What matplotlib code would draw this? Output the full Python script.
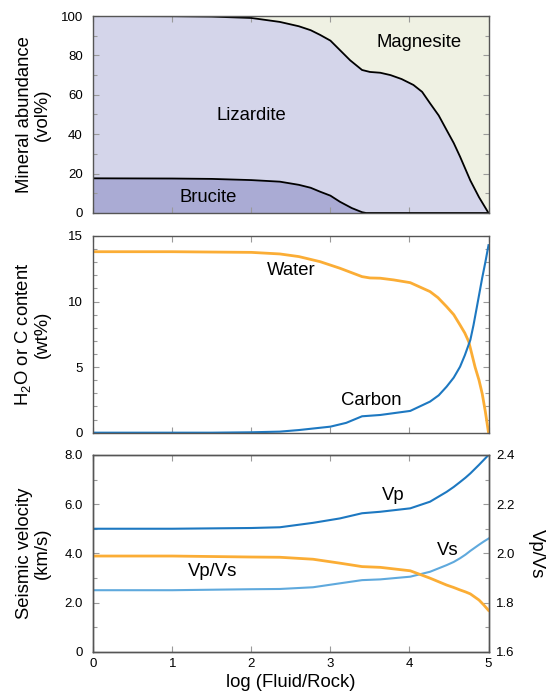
import numpy as np
import matplotlib
matplotlib.use("Agg")
import matplotlib.pyplot as plt
from matplotlib.ticker import MultipleLocator, FixedLocator, FixedFormatter

plt.rcParams["font.family"] = ["Liberation Sans", "DejaVu Sans"]
plt.rcParams["mathtext.fontset"] = "custom"
plt.rcParams["mathtext.rm"] = "Liberation Sans"

# -------------------------------------------------------
# DATA
# -------------------------------------------------------
# panel 1: mineral abundance (vol%)
liz_x = [0, 1.0, 1.5, 2.0, 2.36, 2.6, 2.75, 2.87, 3.0, 3.12, 3.25, 3.40, 3.5, 3.63,
         3.76, 3.9, 4.05, 4.16, 4.26, 4.37, 4.47, 4.56, 4.64, 4.77, 4.88, 5.0]
liz_top = [100, 99.9, 99.7, 99.0, 97.0, 94.8, 92.8, 90.4, 87.5, 82.7, 77.5, 72.6, 71.6, 71.2,
           70.0, 68.0, 65.0, 61.5, 55.7, 49.5, 42.1, 35.5, 28.6, 16.5, 8.0, 0]
bru_x = [0, 1.0, 1.5, 2.0, 2.36, 2.6, 2.75, 2.87, 3.0, 3.12, 3.27, 3.40, 3.45, 5.0]
brucite = [17.6, 17.5, 17.3, 16.7, 15.9, 14.3, 12.8, 10.8, 8.8, 5.7, 2.5, 0.4, 0, 0]

# panel 2: H2O / C content (wt%)
w_x = [0, 1.0, 2.0, 2.36, 2.6, 2.87, 3.12, 3.40, 3.5, 3.63, 3.8, 4.01, 4.26, 4.36,
       4.47, 4.56, 4.64, 4.70, 4.75, 4.83, 4.88, 4.92, 4.96, 5.0]
water = [13.8, 13.8, 13.75, 13.63, 13.43, 13.04, 12.54, 11.9, 11.8, 11.78, 11.65, 11.44, 10.76, 10.3,
         9.61, 9.0, 8.21, 7.6, 6.94, 5.0, 4.0, 2.98, 1.6, 0]
c_x = [0, 1.5, 2.0, 2.36, 2.6, 3.0, 3.2, 3.40, 3.63, 4.01, 4.26, 4.37, 4.47, 4.56, 4.64,
       4.70, 4.77, 4.81, 4.85, 4.92, 4.96, 5.0]
carbon = [0, 0, 0.03, 0.08, 0.2, 0.46, 0.75, 1.25, 1.35, 1.66, 2.37, 2.85, 3.51, 4.2, 5.03,
          5.9, 7.07, 8.2, 9.5, 11.8, 13.0, 14.3]

# panel 3: seismic velocity (km/s) and Vp/Vs
v_x = [0, 1.0, 2.0, 2.36, 2.78, 3.12, 3.40, 3.63, 4.01, 4.26, 4.47, 4.56, 4.64, 4.71,
       4.77, 4.88, 4.94, 5.0]
vp = [5.0, 5.0, 5.03, 5.06, 5.24, 5.42, 5.63, 5.69, 5.83, 6.10, 6.50, 6.7, 6.9, 7.08,
      7.25, 7.6, 7.8, 8.0]
vs = [2.5, 2.5, 2.54, 2.55, 2.62, 2.78, 2.91, 2.94, 3.05, 3.25, 3.52, 3.65, 3.8, 3.95,
      4.1, 4.35, 4.48, 4.6]
vpvs = [1.989, 1.989, 1.985, 1.984, 1.976, 1.960, 1.946, 1.943, 1.929, 1.899, 1.871, 1.861,
        1.851, 1.843, 1.835, 1.81, 1.79, 1.768]

x_ticks = [0, 1, 2, 3, 4, 5]
v_ticks = [0, 2, 4, 6, 8]
v_tick_labels = ["0", "2.0", "4.0", "6.0", "8.0"]
r_ticks = [1.6, 1.8, 2.0, 2.2, 2.4]
r_tick_labels = ["1.6", "1.8", "2.0", "2.2", "2.4"]

# colours
C_LIZ = "#d4d5ea"
C_BRU = "#aaabd4"
C_MAG = "#eff1e3"
C_ORANGE = "#fbad35"
C_BLUE = "#1d78c1"
C_LBLUE = "#5fa9dd"
SPINE = "#555555"
TICK = "#9a9a9a"

LABEL_FS = 13.3
TICK_FS = 9.5


def style_axes(ax, show_x_labels=False):
    for s in ax.spines.values():
        s.set_color(SPINE)
        s.set_linewidth(1.0)
    ax.set_xlim(0, 5)
    ax.xaxis.set_major_locator(FixedLocator(x_ticks))
    ax.tick_params(which="both", direction="in", color=TICK, labelsize=TICK_FS,
                   top=True, right=True)
    ax.tick_params(which="major", length=4.5, width=0.8)
    ax.tick_params(which="minor", length=2.8, width=0.8)
    ax.tick_params(axis="y", pad=7.5)
    ax.tick_params(axis="x", pad=4.5, labelbottom=show_x_labels)


fig = plt.figure(figsize=(5.51, 6.99), dpi=100)
L, W = 0.1693, 0.7173
ax1 = fig.add_axes([L, 0.6953, W, 0.2818])
ax2 = fig.add_axes([L, 0.3810, W, 0.2814])
ax3 = fig.add_axes([L, 0.0677, W, 0.2814])

# -------------------------------------------------------
# PANEL 1: mineral abundance
# -------------------------------------------------------
ax1.set_facecolor(C_MAG)
ax1.fill_between(liz_x, 0, liz_top, color=C_LIZ, lw=0)
ax1.fill_between(bru_x, 0, brucite, color=C_BRU, lw=0)
ax1.plot(liz_x, liz_top, color="black", lw=1.3)
ax1.plot(bru_x, brucite, color="black", lw=1.3)
ax1.set_ylim(0, 100)
ax1.yaxis.set_major_locator(MultipleLocator(20))
ax1.yaxis.set_minor_locator(MultipleLocator(10))
style_axes(ax1)
ax1.set_ylabel("Mineral abundance\n(vol%)", fontsize=LABEL_FS, linespacing=1.05)
ax1.yaxis.set_label_coords(-0.107, 0.5)
ax1.text(4.12, 86.6, "Magnesite", fontsize=LABEL_FS, ha="center", va="center")
ax1.text(2.0, 49.5, "Lizardite", fontsize=LABEL_FS, ha="center", va="center")
ax1.text(1.45, 8.0, "Brucite", fontsize=LABEL_FS, ha="center", va="center")

# -------------------------------------------------------
# PANEL 2: water / carbon
# -------------------------------------------------------
ax2.plot(w_x, water, color=C_ORANGE, lw=2.0)
ax2.plot(c_x, carbon, color=C_BLUE, lw=1.5)
ax2.set_ylim(0, 15)
ax2.yaxis.set_major_locator(MultipleLocator(5))
ax2.yaxis.set_minor_locator(MultipleLocator(1))
style_axes(ax2)
ax2.set_ylabel("H$_2$O or C content\n(wt%)", fontsize=LABEL_FS, linespacing=1.05)
ax2.yaxis.set_label_coords(-0.107, 0.5)
ax2.text(2.51, 12.35, "Water", fontsize=LABEL_FS, ha="center", va="center")
ax2.text(3.52, 2.44, "Carbon", fontsize=LABEL_FS, ha="center", va="center")

# -------------------------------------------------------
# PANEL 3: seismic velocity + Vp/Vs
# -------------------------------------------------------
ax3.plot(v_x, vp, color=C_BLUE, lw=1.5)
ax3.plot(v_x, vs, color=C_LBLUE, lw=1.5)
ax3.set_ylim(0, 8)
ax3.yaxis.set_major_locator(FixedLocator(v_ticks))
ax3.yaxis.set_major_formatter(FixedFormatter(v_tick_labels))
ax3.yaxis.set_minor_locator(MultipleLocator(1))
style_axes(ax3, show_x_labels=True)
ax3.tick_params(which="both", right=False)
ax3.set_ylabel("Seismic velocity\n(km/s)", fontsize=LABEL_FS, linespacing=1.05)
ax3.yaxis.set_label_coords(-0.107, 0.5)
ax3.set_xlabel("log (Fluid/Rock)", fontsize=LABEL_FS, labelpad=3)

ax3r = ax3.twinx()
ax3r.plot(v_x, vpvs, color=C_ORANGE, lw=2.0)
ax3r.set_ylim(1.6, 2.4)
ax3r.yaxis.set_major_locator(FixedLocator(r_ticks))
ax3r.yaxis.set_major_formatter(FixedFormatter(r_tick_labels))
ax3r.yaxis.set_minor_locator(MultipleLocator(0.1))
for s in ax3r.spines.values():
    s.set_color(SPINE)
    s.set_linewidth(1.0)
ax3r.tick_params(which="both", direction="in", color=TICK, labelsize=TICK_FS, pad=5.5)
ax3r.tick_params(which="major", length=4.5, width=0.8)
ax3r.tick_params(which="minor", length=2.8, width=0.8)
ax3r.set_ylabel("Vp/Vs", fontsize=LABEL_FS, rotation=270, va="center")
ax3r.yaxis.set_label_coords(1.12, 0.5)

ax3.text(3.80, 6.34, "Vp", fontsize=LABEL_FS, ha="center", va="center")
ax3.text(4.48, 4.13, "Vs", fontsize=LABEL_FS, ha="center", va="center")
ax3.text(1.51, 3.27, "Vp/Vs", fontsize=LABEL_FS, ha="center", va="center")

fig.savefig("out.png", dpi=100)
